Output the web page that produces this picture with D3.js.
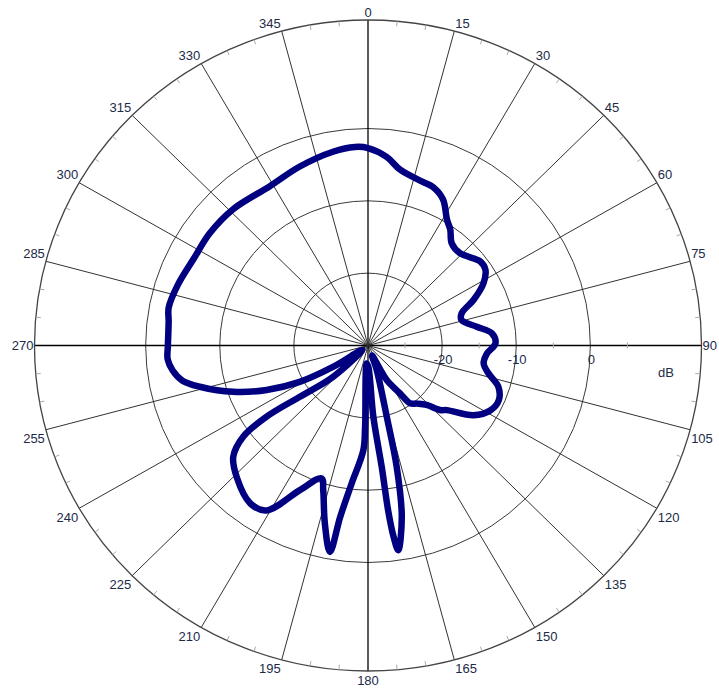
<!DOCTYPE html>
<html>
<head>
<meta charset="utf-8">
<script src="https://cdn.jsdelivr.net/npm/d3@7"></script>
<style>
  html, body { margin: 0; padding: 0; background: #fff; }
  svg { display: block; }
  text { font-family: "Liberation Sans", Arial, sans-serif; font-size: 13px; fill: #1c2a48; }
</style>
</head>
<body>
<svg id="chart" width="719" height="690"></svg>
<script>
// ---- data ----
const angleLabels = [0,15,30,45,60,75,90,105,120,135,150,165,180,195,210,225,240,255,270,285,300,315,330,345];
const ringValues = [-20, -10, 0];
const minorTicks = [-25, -15, -5, 5];
const dbDomain = [-30, 15];
// measured pattern: angle (deg, clockwise from top) and level (dB)
const patternAngle = [0,5.5,10.1,18.1,21.8,26.6,31.5,34.7,38.6,44.2,52.5,56.5,61.1,66.1,70.6,74.4,80,84.2,89,93.9,99,103.3,108,113.2,118.4,124.1,130,132.5,136.1,140.6,144.6,146.9,152.1,158,160.8,165.6,167,169.1,171.8,172.6,173.2,173.7,175.8,179,184,182,182.5,186.6,189,190.2,193.3,196.8,198.8,204.7,211,216,224.2,229.8,233.2,234.3,232.4,227.4,232,237.9,241.4,245.8,250.6,255.9,259,262.6,266,270,277,281,288,297,306,316,329,339.6,350,356.3];
const patternDb = [-2.7,-3.8,-5.3,-6.2,-6.4,-7.4,-9.6,-10.5,-11.9,-12.2,-10.9,-11.0,-12.2,-14.4,-16.6,-16.9,-15.1,-13.2,-12.8,-13.9,-14.2,-13.3,-11.5,-10.8,-11.2,-12.8,-16.1,-16.8,-18.6,-19.6,-20.2,-22.1,-24.6,-28.5,-26.4,-19.8,-12.8,-5.9,-1.4,-3.5,-7,-13.1,-20.1,-27,-27.5,-18.7,-15.5,-10.8,-6,-1.0,-4.7,-9.1,-10.6,-8,-3.4,-3.0,-4.6,-6.2,-9,-13.1,-18.4,-23.6,-29,-24.5,-19.5,-15,-10.7,-6.6,-4.5,-3.4,-2.9,-3.0,-2.9,-2.6,-3.0,-3.6,-3.6,-3.8,-4.3,-3.6,-2.8,-2.5];

// ---- layout ----
const svg = d3.select("#chart");
const cx = 368, cy = 345.5;
const rx = d3.scaleLinear().domain(dbDomain).range([0, 333.5]);
const ry = d3.scaleLinear().domain(dbDomain).range([0, 325.5]);
const rad = d => d * Math.PI / 180;
const px = (a, db) => cx + rx(db) * Math.sin(rad(a));
const py = (a, db) => cy - ry(db) * Math.cos(rad(a));
const outer = dbDomain[1];

const g = svg.append("g");

// rings
g.selectAll("ellipse.ring").data(ringValues).enter().append("ellipse")
  .attr("cx", cx).attr("cy", cy)
  .attr("rx", d => rx(d)).attr("ry", d => ry(d))
  .attr("fill", "none").attr("stroke", "#3a3a3a").attr("stroke-width", 1);

// spokes
const spokeAngles = d3.range(0, 360, 15);
g.selectAll("line.spoke").data(spokeAngles).enter().append("line")
  .attr("x1", cx).attr("y1", cy)
  .attr("x2", d => px(d, outer)).attr("y2", d => py(d, outer))
  .attr("stroke", d => d % 90 === 0 ? "#000" : "#333")
  .attr("stroke-width", d => d % 90 === 0 ? 1.3 : 1);

// outer circle
g.append("ellipse").attr("cx", cx).attr("cy", cy)
  .attr("rx", rx(outer)).attr("ry", ry(outer))
  .attr("fill", "none").attr("stroke", "#444").attr("stroke-width", 1.3);

// minor angular ticks on outer circle
const minorAngles = d3.range(0, 360, 5).filter(a => a % 15 !== 0);
g.selectAll("line.atick").data(minorAngles).enter().append("line")
  .attr("x1", d => px(d, outer)).attr("y1", d => py(d, outer))
  .attr("x2", d => cx + (rx(outer) - 5) * Math.sin(rad(d)))
  .attr("y2", d => cy - (ry(outer) - 5) * Math.cos(rad(d)))
  .attr("stroke", "#aaa").attr("stroke-width", 1);

// minor radial ticks on horizontal axis
g.selectAll("line.rtick").data(minorTicks).enter().append("line")
  .attr("x1", d => cx + rx(d)).attr("x2", d => cx + rx(d))
  .attr("y1", cy - 3).attr("y2", cy + 3)
  .attr("stroke", "#aaa").attr("stroke-width", 1);

// pattern
const pts = patternAngle.map((a, i) => [px(a, patternDb[i]), py(a, patternDb[i])]);
g.append("path")
  .attr("d", d3.line().curve(d3.curveCatmullRomClosed.alpha(0.5))(pts))
  .attr("fill", "none").attr("stroke", "#000080").attr("stroke-width", 6.5)
  .attr("stroke-linejoin", "round");

// angle labels
g.selectAll("text.alab").data(angleLabels).enter().append("text")
  .attr("x", d => {
    const x = px(d, outer);
    if (d === 0 || d === 180) return x;
    return d < 180 ? x + 1 : x - 1;
  })
  .attr("y", d => {
    const y = py(d, outer);
    if (d === 90 || d === 270) return y + 4.5;
    const c = Math.cos(rad(d));
    return c > 0 ? y - 3.5 : y + 13.5;
  })
  .attr("text-anchor", d => (d === 0 || d === 180) ? "middle" : (d < 180 ? "start" : "end"))
  .text(d => d);

// ring labels
g.selectAll("text.rlab").data(ringValues).enter().append("text")
  .attr("x", d => cx + rx(d) + 1).attr("y", cy + 18.5)
  .attr("text-anchor", "middle")
  .text(d => d);

g.append("text").attr("x", 658).attr("y", 377).text("dB");
</script>
</body>
</html>
